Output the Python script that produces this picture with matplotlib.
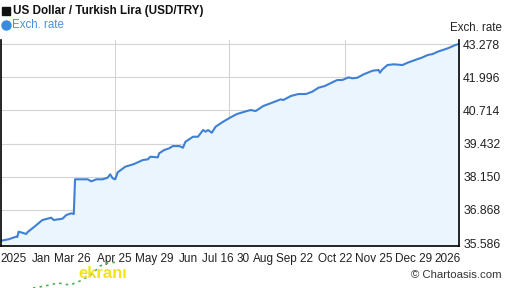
import datetime as dt
import pandas as pd
import matplotlib.pyplot as plt
from matplotlib.lines import Line2D
from matplotlib.patches import Rectangle

plt.rcParams['font.family'] = ['Liberation Sans', 'DejaVu Sans']

# USD/TRY exchange rate
dates = ['2025-01-19', '2025-01-25', '2025-01-31', '2025-02-01', '2025-02-02',
         '2025-02-05', '2025-02-08', '2025-02-09', '2025-02-14', '2025-02-21',
         '2025-02-28', '2025-03-02', '2025-03-09', '2025-03-12', '2025-03-16',
         '2025-03-18', '2025-03-19', '2025-03-29', '2025-04-01', '2025-04-05',
         '2025-04-10', '2025-04-14', '2025-04-16', '2025-04-18', '2025-04-20',
         '2025-04-22', '2025-04-28', '2025-05-05', '2025-05-12', '2025-05-16',
         '2025-05-18', '2025-05-24', '2025-05-25', '2025-05-29', '2025-06-02',
         '2025-06-05', '2025-06-07', '2025-06-10', '2025-06-13', '2025-06-15',
         '2025-06-21', '2025-06-25', '2025-06-29', '2025-07-01', '2025-07-03',
         '2025-07-06', '2025-07-09', '2025-07-15', '2025-07-21', '2025-07-26',
         '2025-08-03', '2025-08-06', '2025-08-10', '2025-08-16', '2025-08-23',
         '2025-08-30', '2025-09-01', '2025-09-07', '2025-09-13', '2025-09-19',
         '2025-09-24', '2025-09-29', '2025-10-04', '2025-10-11', '2025-10-14',
         '2025-10-18', '2025-10-23', '2025-10-26', '2025-10-30', '2025-11-04',
         '2025-11-11', '2025-11-16', '2025-11-17', '2025-11-19', '2025-11-23',
         '2025-11-28', '2025-12-05', '2025-12-09', '2025-12-15', '2025-12-21',
         '2025-12-25', '2025-12-29', '2026-01-02', '2026-01-06', '2026-01-10',
         '2026-01-13', '2026-01-16', '2026-01-19']
rates = [35.675, 35.729, 35.830, 35.818, 36.023,
         35.984, 35.934, 36.000, 36.193, 36.475,
         36.564, 36.475, 36.525, 36.668, 36.734,
         36.707, 38.048, 38.048, 37.971, 38.048,
         38.048, 38.110, 38.241, 38.087, 38.048,
         38.319, 38.535, 38.639, 38.794, 38.821,
         38.921, 38.898, 39.053, 39.180, 39.246,
         39.335, 39.330, 39.335, 39.270, 39.501,
         39.694, 39.694, 39.953, 39.888, 39.953,
         39.849, 40.081, 40.274, 40.444, 40.572,
         40.688, 40.726, 40.688, 40.881, 41.009,
         41.140, 41.113, 41.268, 41.345, 41.345,
         41.434, 41.588, 41.654, 41.820, 41.886,
         41.886, 41.990, 41.952, 41.975, 42.106,
         42.245, 42.273, 42.168, 42.300, 42.466,
         42.493, 42.466, 42.555, 42.659, 42.763,
         42.852, 42.891, 42.980, 43.046, 43.111,
         43.173, 43.239, 43.278]

x_labels = ['2025', 'Jan', 'Mar 26', 'Apr 25', 'May 29', 'Jun', 'Jul 16', '30',
            'Aug', 'Sep 22', 'Oct 22', 'Nov 25', 'Dec 29', '2026']
x_label_days = [10, 32, 57, 90, 122, 149, 173, 193, 209, 234, 266, 297, 329, 356]
grid_days = [91, 182, 274]
y_ticks = [35.586, 36.868, 38.150, 39.432, 40.714, 41.996, 43.278]

line_col = '#3f80d4'
fill_col = '#eaf5fe'

dates = pd.to_datetime(dates)
start = dates[0]

fig = plt.figure(figsize=(5.07, 2.88), dpi=100)
ax = fig.add_axes([0.002, 0.1458, 0.9033, 0.7153])

ax.fill_between(dates, rates, 35.0, color=fill_col, lw=0)
ax.plot(dates, rates, color=line_col, lw=1.5)

ax.set_xlim(dates[0], dates[-1])
ax.set_ylim(35.47, 43.433)

ax.set_xticks([start + dt.timedelta(days=d) for d in x_label_days])
ax.set_xticklabels(x_labels)
ax.set_xticks([start + dt.timedelta(days=d) for d in grid_days], minor=True)
ax.set_yticks(y_ticks)
ax.set_yticklabels(['%.3f' % v for v in y_ticks])
ax.yaxis.tick_right()

ax.tick_params(axis='both', which='both', length=0, colors='#222222')
ax.tick_params(axis='x', pad=5, labelsize=8.5)
ax.tick_params(axis='y', pad=3, labelsize=8.8)

ax.grid(True, axis='y', which='major', color='#d4d4d4', lw=0.8)
ax.grid(True, axis='x', which='minor', color='#d4d4d4', lw=0.8)
ax.set_axisbelow(True)

for side in ['left', 'right', 'bottom']:
    ax.spines[side].set_color('black')
    ax.spines[side].set_linewidth(1.2)
ax.spines['top'].set_visible(False)

# header
fig.add_artist(Rectangle((2 / 507, 1 - 15 / 288), 8 / 507, 8 / 288,
                         transform=fig.transFigure, color='#111111'))
fig.text(13 / 507, 1 - 11 / 288, 'US Dollar / Turkish Lira (USD/TRY)',
         fontsize=8.4, fontweight='bold', va='center', ha='left', color='#111111')
fig.add_artist(Line2D([6 / 507], [1 - 25 / 288], transform=fig.transFigure,
                      marker='o', markersize=6.5, color='#3b8ae0', lw=0))
fig.text(12 / 507, 1 - 25 / 288, 'Exch. rate', fontsize=8.3, va='center',
         ha='left', color='#4a8fdc')
fig.text(502 / 507, 1 - 28 / 288, 'Exch. rate', fontsize=8.3, va='center',
         ha='right', color='#222222')
fig.text(502 / 507, 1 - 275 / 288, '\u00a9 Chartoasis.com', fontsize=8.2,
         va='center', ha='right', color='#333333')

# overlay watermark at the bottom left
wm_x = [33, 45, 58, 70, 80, 92, 100, 108, 118]
wm_y = [288, 286, 283, 285, 281, 274, 266, 263, 262]
fig.add_artist(Line2D([v / 507 for v in wm_x], [1 - v / 288 for v in wm_y],
                      transform=fig.transFigure, color='#4caf50', lw=1.2,
                      ls=(0, (1.5, 2.5))))
fig.text(78 / 507, 1 - 274 / 288, 'ekranı', fontsize=12, fontweight='bold',
         va='center', ha='left', color='#f2e41c')

fig.savefig('out.png', dpi=100)
